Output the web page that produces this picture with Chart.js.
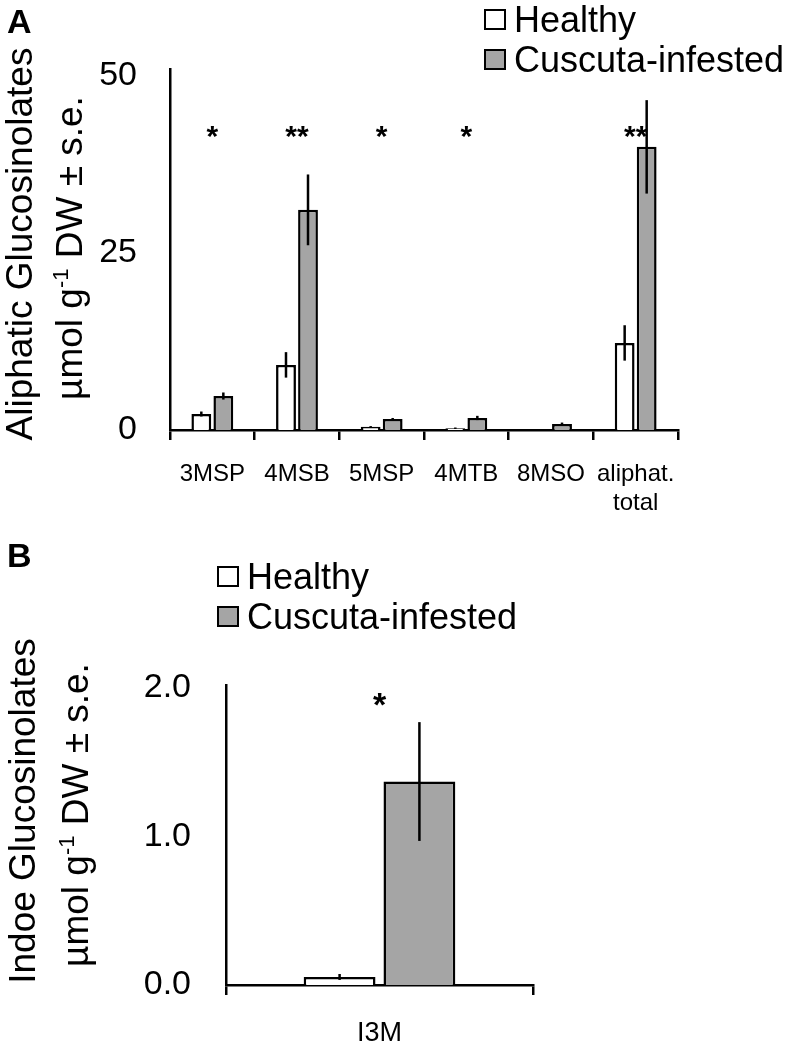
<!DOCTYPE html>
<html>
<head>
<meta charset="utf-8">
<script src="https://cdn.jsdelivr.net/npm/chart.js@4.4.1/dist/chart.umd.min.js"></script>
<style>
  html, body { margin: 0; padding: 0; background: #fff; }
  canvas { display: block; position: absolute; left: 0; }
  #chartA { top: 0; }
  #chartB { top: 530px; }
</style>
</head>
<body>
<canvas id="chartA" width="799" height="530"></canvas>
<canvas id="chartB" width="799" height="517"></canvas>
<script>
// Panel A - aliphatic glucosinolates
const categoriesA = ['3MSP', '4MSB', '5MSP', '4MTB', '8MSO', ['aliphat.', 'total']];
const healthyA = [2.26, 9.2, 0.45, 0.25, 0, 12.3];
const healthyErrA = [0.35, 1.8, 0.1, 0.1, 0, 2.5];
const infestedA = [4.8, 31.1, 1.55, 1.7, 0.85, 40.0];
const infestedErrA = [0.5, 5.0, 0.15, 0.3, 0.2, 6.6];
const starsA = ['*', '**', '*', '*', '', '**'];
const starLevelA = 42.4;
const ticksA = [0, 25, 50];

// Panel B - indole glucosinolates
const categoriesB = ['I3M'];
const healthyB = [0.054];
const healthyErrB = [0.02];
const infestedB = [1.37];
const infestedErrB = [0.40];
const starsB = ['*'];
const starLevelB = 1.94;
const ticksB = [0, 1, 2];

const seriesNames = ['Healthy', 'Cuscuta-infested'];
const FONT = '"Liberation Sans", Arial, sans-serif';
const GREY = '#a5a5a5';

Chart.defaults.font.family = FONT;
Chart.defaults.color = '#000';

// error bars, asterisks, legend, axis title and panel letter
const extras = {
  id: 'extras',
  afterDatasetsDraw(chart, args, opts) {
    const ctx = chart.ctx;
    const y = chart.scales.y;
    ctx.save();
    ctx.strokeStyle = '#000';
    ctx.lineWidth = 2.5;
    chart.data.datasets.forEach((ds, d) => {
      const meta = chart.getDatasetMeta(d);
      meta.data.forEach((bar, i) => {
        const e = ds.errors[i];
        if (!e) return;
        ctx.beginPath();
        ctx.moveTo(bar.x, y.getPixelForValue(ds.data[i] + e));
        ctx.lineTo(bar.x, y.getPixelForValue(ds.data[i] - e));
        ctx.stroke();
      });
    });
    ctx.restore();
  },
  afterDraw(chart, args, opts) {
    const ctx = chart.ctx;
    const x = chart.scales.x, y = chart.scales.y;
    ctx.save();
    ctx.fillStyle = '#000';

    // significance stars
    ctx.font = 'bold ' + opts.starSize + 'px ' + FONT;
    ctx.textAlign = 'center';
    ctx.textBaseline = 'alphabetic';
    opts.stars.forEach((s, i) => {
      if (!s) return;
      ctx.fillText(s, x.getPixelForValue(i), y.getPixelForValue(opts.starLevel) + opts.starSize * 0.55);
    });

    // legend
    ctx.font = '36px ' + FONT;
    ctx.textAlign = 'left';
    ctx.textBaseline = 'middle';
    chart.data.datasets.forEach((ds, d) => {
      const by = opts.legendTop + d * 40;
      ctx.fillStyle = ds.backgroundColor;
      ctx.fillRect(opts.legendX, by, 20, 19);
      ctx.strokeStyle = '#000';
      ctx.lineWidth = 2;
      ctx.strokeRect(opts.legendX, by, 20, 19);
      ctx.fillStyle = '#000';
      ctx.fillText(ds.label, opts.legendX + 29, by + 12);
    });

    // rotated y axis title, two lines
    ctx.save();
    ctx.translate(opts.titleX1, opts.titleY);
    ctx.rotate(-Math.PI / 2);
    ctx.textAlign = 'center';
    ctx.textBaseline = 'alphabetic';
    ctx.font = '37px ' + FONT;
    ctx.fillText(opts.title, 0, 0);
    ctx.restore();

    ctx.save();
    ctx.translate(opts.titleX2, opts.titleY + 4);
    ctx.rotate(-Math.PI / 2);
    ctx.textAlign = 'left';
    ctx.textBaseline = 'alphabetic';
    const big = '37px ' + FONT, small = '22px ' + FONT;
    const p1 = '\u00b5mol g', sup = '-1', p2 = ' DW \u00b1 s.e.';
    ctx.font = big;
    const w1 = ctx.measureText(p1).width, w2 = ctx.measureText(p2).width;
    ctx.font = small;
    const ws = ctx.measureText(sup).width;
    let tx = -(w1 + ws + w2) / 2;
    ctx.font = big;
    ctx.fillText(p1, tx, 0);
    tx += w1;
    ctx.font = small;
    ctx.fillText(sup, tx, -14);
    tx += ws;
    ctx.font = big;
    ctx.fillText(p2, tx, 0);
    ctx.restore();

    // panel letter
    ctx.font = 'bold 34px ' + FONT;
    ctx.textAlign = 'left';
    ctx.textBaseline = 'alphabetic';
    ctx.fillText(opts.panel, 7, opts.panelY);
    ctx.restore();
  }
};

function makeChart(id, cfg) {
  return new Chart(document.getElementById(id), {
    type: 'bar',
    data: {
      labels: cfg.labels,
      datasets: [
        { label: seriesNames[0], data: cfg.healthy, errors: cfg.healthyErr,
          backgroundColor: '#ffffff', borderColor: '#000', borderWidth: 2.5 },
        { label: seriesNames[1], data: cfg.infested, errors: cfg.infestedErr,
          backgroundColor: GREY, borderColor: '#000', borderWidth: 2.5 }
      ]
    },
    options: {
      responsive: false,
      animation: false,
      events: [],
      categoryPercentage: 0.52,
      barPercentage: 0.9,
      layout: { padding: cfg.padding },
      plugins: {
        legend: { display: false },
        tooltip: { enabled: false },
        extras: cfg.extras
      },
      scales: {
        x: {
          grid: { display: true, drawOnChartArea: false, drawTicks: true, tickLength: 10,
                  color: '#000', lineWidth: 2.5, offset: true },
          border: { display: true, color: '#000', width: 2.5 },
          ticks: { color: '#000', font: { size: cfg.xFont }, padding: cfg.xPad,
                   maxRotation: 0, autoSkip: false },
          afterFit: s => { s.height = cfg.xHeight; }
        },
        y: {
          min: 0,
          max: cfg.yMax,
          grid: { display: false, drawTicks: false },
          border: { display: true, color: '#000', width: 2.5 },
          ticks: { color: '#000', font: { size: 34 }, padding: cfg.yPad,
                   callback: cfg.fmt },
          afterBuildTicks: s => { s.ticks = cfg.ticks.map(v => ({ value: v })); },
          afterFit: s => { s.width = cfg.yWidth; }
        }
      }
    },
    plugins: [extras]
  });
}

makeChart('chartA', {
  labels: categoriesA,
  healthy: healthyA, healthyErr: healthyErrA,
  infested: infestedA, infestedErr: infestedErrA,
  padding: { left: 0, top: 69, right: 121, bottom: 0 },
  xFont: 24, xPad: 20, xHeight: 100,
  yMax: 51, yPad: 33, yWidth: 170, ticks: ticksA,
  fmt: v => String(v),
  extras: {
    stars: starsA, starLevel: starLevelA, starSize: 30,
    legendX: 485, legendTop: 10,
    title: 'Aliphatic Glucosinolates', titleX1: 32, titleX2: 82, titleY: 244,
    panel: 'A', panelY: 33
  }
});

makeChart('chartB', {
  labels: categoriesB,
  healthy: healthyB, healthyErr: healthyErrB,
  infested: infestedB, infestedErr: infestedErrB,
  padding: { left: 0, top: 155, right: 266, bottom: 0 },
  xFont: 27, xPad: 22, xHeight: 62,
  yMax: 2.02, yPad: 35, yWidth: 226, ticks: ticksB,
  fmt: v => v.toFixed(1),
  extras: {
    stars: starsB, starLevel: starLevelB, starSize: 34,
    legendX: 218, legendTop: 37,
    title: 'Indoe Glucosinolates', titleX1: 35, titleX2: 88, titleY: 281,
    panel: 'B', panelY: 37
  }
});
</script>
</body>
</html>
